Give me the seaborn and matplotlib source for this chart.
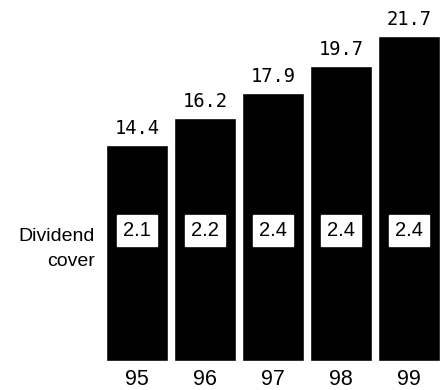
import matplotlib
matplotlib.use("Agg")
import matplotlib.pyplot as plt
import seaborn as sns
import pandas as pd

years = ["95", "96", "97", "98", "99"]
dividend = [14.4, 16.2, 17.9, 19.7, 21.7]
cover = [2.1, 2.2, 2.4, 2.4, 2.4]

df = pd.DataFrame({"year": years, "dividend": dividend, "cover": cover})

sns.set_theme(style="white")
plt.rcParams["font.family"] = ["Liberation Sans", "DejaVu Sans"]

fig = plt.figure(figsize=(4.4, 3.9), dpi=100)
W, H = 440, 390
ax = fig.add_axes([103 / W, 29 / H, 340 / W, 361 / H])

sns.barplot(data=df, x="year", y="dividend", color="black", width=0.9,
            saturation=1, ax=ax)
ax.set_xlim(-0.5, 4.5)
ax.set_ylim(0, 24.07)
ax.axis("off")

for i, (d, c) in enumerate(zip(dividend, cover)):
    ax.annotate(f"{d:.1f}", (i, d), xytext=(0, 5), textcoords="offset points",
                ha="center", va="bottom", fontsize=13.5,
                family="DejaVu Sans Mono", color="black")
    ax.text(i, 8.7, f"{c:.1f}", ha="center", va="center", fontsize=14.5,
            color="black",
            bbox=dict(boxstyle="square,pad=0.28", fc="white", ec="white"))
    ax.annotate(years[i], (i, 0), xytext=(0, -17), textcoords="offset points",
                ha="center", va="baseline", fontsize=15.5, color="black",
                annotation_clip=False)

fig.text(95 / W, 1 - 237 / H, "Dividend", ha="right", va="center",
         fontsize=14, color="black")
fig.text(95 / W, 1 - 261 / H, "cover", ha="right", va="center",
         fontsize=14, color="black")

fig.savefig("out.png", dpi=100)
